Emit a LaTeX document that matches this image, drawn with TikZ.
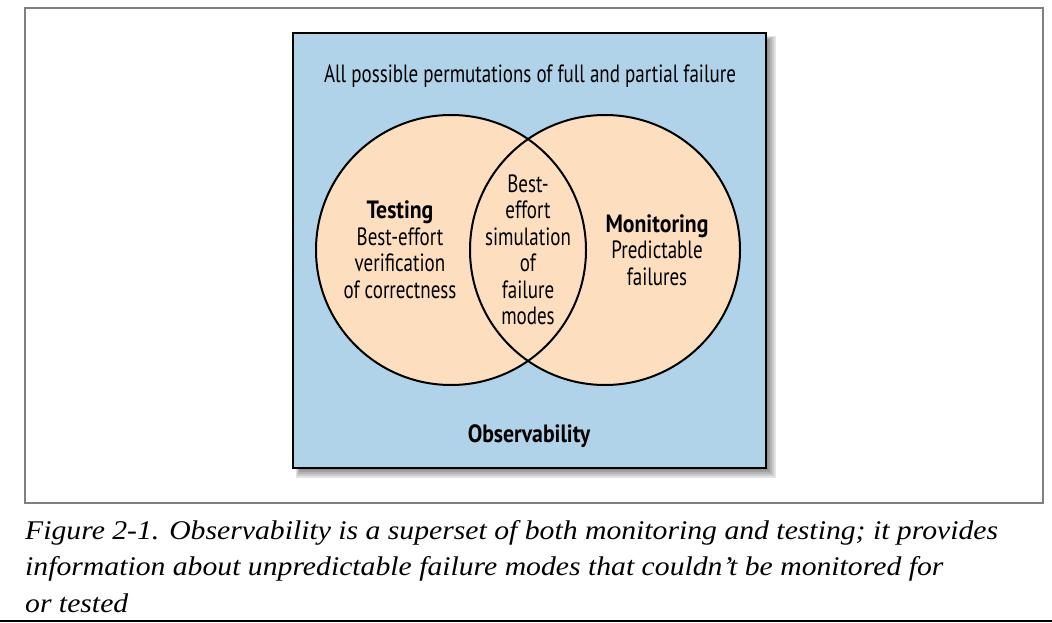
\documentclass[tikz,border=0pt]{standalone}
\usepackage{fontspec}
\newfontfamily\cond{PT Sans}[FakeStretch=0.76, BoldFeatures={FakeStretch=0.87}]
\newfontfamily\capfont{Liberation Serif}[FakeStretch=1.1]
\definecolor{boxblue}{RGB}{177,211,233}
\definecolor{peach}{RGB}{253,223,191}
\definecolor{framegray}{RGB}{128,128,128}
\begin{document}
\begin{tikzpicture}[x=1pt,y=-1pt,
  lbl/.style={font=\cond\fontsize{25}{26.5}\selectfont, align=center, inner sep=0pt, text=black},
  captext/.style={font=\capfont\itshape\fontsize{27}{36}\selectfont, anchor=base west, inner sep=0pt},
  setcircle/.style={circle, minimum size=270pt, inner sep=0pt, outer sep=0pt, fill=peach},
]
\useasboundingbox (0,0) rectangle (1052,623);
% outer frame
\node[draw=framegray, line width=1.5pt, minimum width=1018pt, minimum height=495pt, inner sep=0pt] (frame) at (534,255.5) {};
% shadow of the blue box
\foreach \k in {0,...,4}
  \fill[black, opacity=0.11] (296+\k,36+\k) rectangle (776-2*\k,478-2*\k);
% blue box
\node[draw=black, line width=2pt, fill=boxblue, minimum width=473pt, minimum height=435pt, inner sep=0pt] (box) at (529.5,250.5) {};
% circles
\node[setcircle] (L) at (451,250) {};
\node[setcircle] (R) at (605,250) {};
\draw[line width=2pt] (L.center) circle[radius=135];
\draw[line width=2pt] (R.center) circle[radius=135];
% texts
\node[lbl, anchor=base] (top) at (530,82.5) {All possible permutations of full and partial failure};
\node[lbl] (testing) at (400,250) {\bfseries Testing\\Best-effort\\verification\\of correctness};
\node[lbl] (both) at (528,250) {Best-\\effort\\simulation\\of\\failure\\modes};
\node[lbl] (monitoring) at (657,250) {\bfseries Monitoring\\Predictable\\failures};
\node[lbl, anchor=base] (obs) at (529,442) {\bfseries Observability};
% caption
\node[captext] (c1) at (25,539) {Figure 2-1. Observability is a superset of both monitoring and testing; it provides};
\node[captext] (c2) at (25,575) {information about unpredictable failure modes that couldn’t be monitored for};
\node[captext] (c3) at (25,612) {or tested};
% bottom rule
\coordinate (bl) at (0,620.5);
\coordinate (br) at (1052,620.5);
\draw[line width=2pt] (bl) -- (br);
\end{tikzpicture}
\end{document}
